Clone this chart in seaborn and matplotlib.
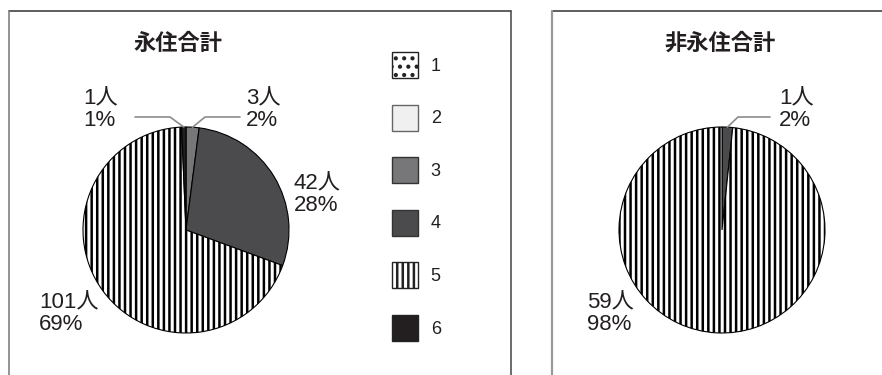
import matplotlib
matplotlib.use("Agg")
import matplotlib.pyplot as plt
from matplotlib.patches import Patch
from matplotlib.lines import Line2D
import numpy as np
import seaborn as sns

# Residence categories and head counts per group
categories = ["1", "2", "3", "4", "5", "6"]
permanent_counts = [0, 0, 3, 42, 101, 1]
permanent_pcts = [0, 0, 2, 28, 69, 1]
nonpermanent_counts = [0, 0, 0, 1, 59, 0]
nonpermanent_pcts = [0, 0, 0, 2, 98, 0]
titles = ["永住合計", "非永住合計"]

# Monochrome print styling per category
fills = ["white", "#f0f0f0", "#77777a", "#4b4b4d", "white", "#231f20"]
hatches = ["..", None, None, None, "|||", None]
legend_edges = ["#222222", "#666666", "#333333", "#333333", "#222222", "#222222"]

sns.set_theme(style="white")
plt.rcParams["font.family"] = ["Liberation Sans", "Noto Sans CJK JP"]
plt.rcParams["hatch.linewidth"] = 1.8

W, H = 882, 375
fig = plt.figure(figsize=(W / 100, H / 100), dpi=100)
fig.patch.set_facecolor("white")

R = 103      # pie radius in pixels
HALF = 130   # half-size of each pie axes in pixels


def pie_axes(cx, cy):
    return fig.add_axes([(cx - HALF) / W, 1 - (cy + HALF) / H, 2 * HALF / W, 2 * HALF / H])


def draw_pie(ax, counts):
    idx = [i for i, c in enumerate(counts) if c > 0]
    wedges, _ = ax.pie([counts[i] for i in idx],
                       colors=[fills[i] for i in idx],
                       startangle=90, counterclock=False,
                       wedgeprops=dict(edgecolor="black", linewidth=0.8))
    out = {}
    for i, w in zip(idx, wedges):
        if hatches[i]:
            w.set_hatch(hatches[i])
        out[i] = w
    lim = HALF / R
    ax.set_xlim(-lim, lim)
    ax.set_ylim(-lim, lim)
    ax.set_axis_off()
    return out


def to_data(cx, cy, px, py):
    return (px - cx) / R, (cy - py) / R


def edge_point(w):
    a = np.deg2rad((w.theta1 + w.theta2) / 2)
    return np.cos(a), np.sin(a)


def label(ax, cx, cy, px, py, count, pct):
    x, y = to_data(cx, cy, px, py)
    ax.text(x, y, f"{count}人\n{pct}%", ha="left", va="top", fontsize=16,
            linespacing=1.08, color="#231f20", clip_on=False)


def leader(ax, cx, cy, w, far_px, elbow_px, y_px):
    fx, fy = to_data(cx, cy, far_px, y_px)
    ex, ey = to_data(cx, cy, elbow_px, y_px)
    px, py = edge_point(w)
    ax.plot([fx, ex, px], [fy, ey, py], color="#8c8c8c", lw=1.2,
            clip_on=False, solid_joinstyle="miter")


# Permanent residents
cxL, cyL = 186, 230
axL = pie_axes(cxL, cyL)
wl = draw_pie(axL, permanent_counts)
label(axL, cxL, cyL, 83, 88, permanent_counts[5], permanent_pcts[5])
leader(axL, cxL, cyL, wl[5], 135, 170, 117)
label(axL, cxL, cyL, 246, 88, permanent_counts[2], permanent_pcts[2])
leader(axL, cxL, cyL, wl[2], 240, 205, 117)
label(axL, cxL, cyL, 294, 173, permanent_counts[3], permanent_pcts[3])
label(axL, cxL, cyL, 39, 292, permanent_counts[4], permanent_pcts[4])

# Non-permanent residents
cxR, cyR = 722, 230
axR = pie_axes(cxR, cyR)
wr = draw_pie(axR, nonpermanent_counts)
label(axR, cxR, cyR, 779, 88, nonpermanent_counts[3], nonpermanent_pcts[3])
leader(axR, cxR, cyR, wr[3], 770, 738, 117)
label(axR, cxR, cyR, 587, 292, nonpermanent_counts[4], nonpermanent_pcts[4])

# Titles
title_font = ["Noto Sans CJK JP", "DejaVu Sans"]
fig.text(178 / W, 1 - 43 / H, titles[0], ha="center", va="center",
         fontsize=16, fontweight="bold", family=title_font, color="#231f20")
fig.text(720 / W, 1 - 43 / H, titles[1], ha="center", va="center",
         fontsize=16, fontweight="bold", family=title_font, color="#231f20")

# Legend
handles = [Patch(facecolor=fills[i], edgecolor=legend_edges[i], hatch=hatches[i],
                 linewidth=1.0) for i in range(len(categories))]
fig.legend(handles, categories, loc="upper left",
           bbox_to_anchor=(392 / W, 1 - 52 / H), frameon=False,
           fontsize=13, handlelength=1.44, handleheight=1.84,
           labelspacing=1.47, handletextpad=0.7, borderpad=0,
           borderaxespad=0, labelcolor="#231f20")

# Panel frames (open at the bottom)
def seg(x0, y0, x1, y1, color, lw):
    fig.add_artist(Line2D([x0 / W, x1 / W], [1 - y0 / H, 1 - y1 / H],
                          transform=fig.transFigure, color=color, lw=lw))

seg(9, 11, 511, 11, "#333333", 1.1)
seg(9, 11, 9, 376, "#777777", 1.1)
seg(511, 11, 511, 376, "#444444", 1.1)
seg(552, 11, 882, 11, "#333333", 1.1)
seg(552, 11, 552, 376, "#999999", 1.6)

fig.savefig("out.png", dpi=100, facecolor="white")
